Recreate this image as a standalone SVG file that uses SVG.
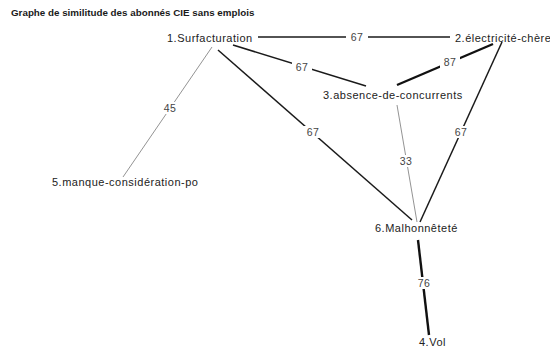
<svg xmlns="http://www.w3.org/2000/svg" width="550" height="350" viewBox="0 0 550 350">
  <style>
    .title { font-family: "Liberation Sans", Arial, sans-serif; font-size: 9.8px; font-weight: bold; fill: #1a1a1a; }
    .node text { font-family: "Liberation Sans", Arial, sans-serif; font-size: 11px; letter-spacing: 0.5px; fill: #222; }
    .lbl { font-family: "Liberation Sans", Arial, sans-serif; font-size: 10.5px; letter-spacing: 0.3px; fill: #444; text-anchor: middle; dominant-baseline: central; }
    .lblbg { fill: #fff; }
    .thin { stroke: #777; stroke-width: 0.8; fill: none; }
    .mid { stroke: #1a1a1a; stroke-width: 1.5; fill: none; }
    .thick { stroke: #111; stroke-width: 2.4; fill: none; }
  </style>
  <rect width="550" height="350" fill="#fff"/>
  <text class="title" x="11" y="16">Graphe de similitude des abonnés CIE sans emplois</text>

  <g id="connectors">
    <!-- 1 - 2 -->
    <line class="mid" x1="258" y1="37" x2="450" y2="37"/>
    <rect class="lblbg" x="346" y="31" width="22" height="12"/>
    <text class="lbl" x="357" y="37">67</text>
    <!-- 1 - 3 -->
    <line class="mid" x1="233" y1="45" x2="366" y2="86"/>
    <rect class="lblbg" x="292" y="61" width="20" height="12"/>
    <text class="lbl" x="302" y="67">67</text>
    <!-- 2 - 3 -->
    <line class="thick" x1="493" y1="44" x2="397" y2="85"/>
    <rect class="lblbg" x="440" y="56" width="20" height="12"/>
    <text class="lbl" x="450" y="62">87</text>
    <!-- 2 - 6 -->
    <line class="mid" x1="502" y1="42" x2="420" y2="222"/>
    <rect class="lblbg" x="451" y="126" width="20" height="12"/>
    <text class="lbl" x="461" y="132">67</text>
    <!-- 1 - 6 -->
    <line class="mid" x1="218" y1="50" x2="412" y2="220"/>
    <rect class="lblbg" x="303" y="126" width="20" height="12"/>
    <text class="lbl" x="313" y="132">67</text>
    <!-- 3 - 6 -->
    <line class="thin" x1="397" y1="105" x2="417" y2="222"/>
    <rect class="lblbg" x="396" y="155" width="20" height="12"/>
    <text class="lbl" x="406" y="161">33</text>
    <!-- 1 - 5 -->
    <line class="thin" x1="212" y1="47" x2="123" y2="177"/>
    <rect class="lblbg" x="160" y="102" width="20" height="12"/>
    <text class="lbl" x="170" y="108">45</text>
    <!-- 6 - 4 -->
    <line class="thick" x1="418" y1="240" x2="429" y2="335"/>
    <rect class="lblbg" x="414" y="277" width="20" height="12"/>
    <text class="lbl" x="424" y="283">76</text>
  </g>

  <g id="n1" class="node"><text x="167" y="42">1.Surfacturation</text></g>
  <g id="n2" class="node"><text x="455" y="42">2.électricité-chère</text></g>
  <g id="n3" class="node"><text x="323" y="99">3.absence-de-concurrents</text></g>
  <g id="n5" class="node"><text x="52" y="186">5.manque-considération-po</text></g>
  <g id="n6" class="node"><text x="375" y="232">6.Malhonnêteté</text></g>
  <g id="n4" class="node"><text x="419" y="346">4.Vol</text></g>
</svg>
